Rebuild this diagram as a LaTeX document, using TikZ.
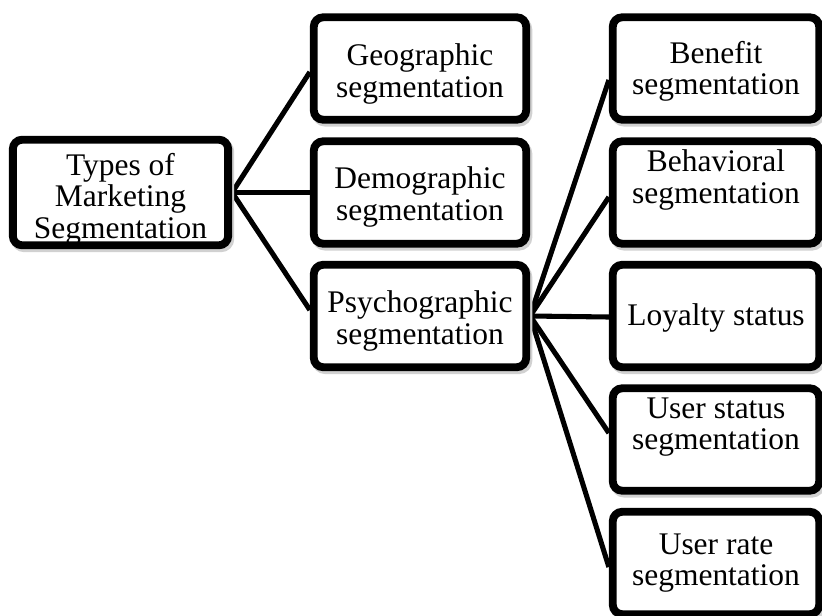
\documentclass[tikz,border=0pt]{standalone}
\usepackage{fontspec}
\setmainfont{Liberation Serif}
\usetikzlibrary{backgrounds}
% invisible strut that pads the first line of a box label from above
\newcommand\padtop[1]{\rule{0pt}{#1}}
\begin{document}
\begin{tikzpicture}[x=0.75pt,y=-0.75pt,
  box/.style={draw=black, line width=5.9pt, rounded corners=7pt, fill=white,
    align=center, inner sep=0pt, font=\fontsize{23.6}{23.8}\selectfont,
    preaction={draw=black!18, fill=black!18, line width=5.9pt,
      transform canvas={shift={(1.6pt,-2.2pt)}}}},
  midbox/.style={box, minimum width=159.3pt, minimum height=76.8pt},
  rightbox/.style={box, minimum width=154.8pt, minimum height=76.8pt},
  link/.style={line width=3.8pt}]
\useasboundingbox (0,0) rectangle (822,615);

% root
\node[box, minimum width=161.5pt, minimum height=77.5pt] (root) at (120.5,192.5)
  {\padtop{26.5pt}Types of\\Marketing\\Segmentation};

% second level
\node[midbox] (geo)  at (420,68.5)  {\padtop{24.5pt}Geographic\\segmentation};
\node[midbox] (demo) at (420,192.5) {\padtop{23pt}Demographic\\segmentation};
\node[midbox] (psy)  at (420,316)   {\padtop{24pt}Psychographic\\segmentation};

% third level
\node[rightbox] (ben) at (716,68.5)  {\padtop{21pt}Benefit\\segmentation};
\node[rightbox] (beh) at (716,192.5) {Behavioral\\segmentation\\\mbox{}};
\node[rightbox] (loy) at (716,316)   {\padtop{19pt}Loyalty status};
\node[rightbox] (ust) at (716,439.5) {User status\\segmentation\\\mbox{}};
\node[rightbox] (urt) at (716,563)   {User rate\\segmentation};

% connector end points on the left edges
\coordinate (geo-in)  at (geo.west |- 0,72);
\coordinate (psy-in)  at (psy.west |- 0,310);
\coordinate (ben-in)  at (ben.west |- 0,80);
\coordinate (beh-in)  at (beh.west |- 0,197);
\coordinate (loy-in)  at (loy.west |- 0,317);
\coordinate (ust-in)  at (ust.west |- 0,433);
\coordinate (urt-in)  at (urt.west |- 0,567);

\begin{scope}[on background layer]
  \draw[link] (root.east) -- (geo-in);
  \draw[link] (root.east) -- (demo.west);
  \draw[link] (root.east) -- (psy-in);
  \draw[link] (psy.east) -- (ben-in);
  \draw[link] (psy.east) -- (beh-in);
  \draw[link] (psy.east) -- (loy-in);
  \draw[link] (psy.east) -- (ust-in);
  \draw[link] (psy.east) -- (urt-in);
\end{scope}
\end{tikzpicture}
\end{document}
